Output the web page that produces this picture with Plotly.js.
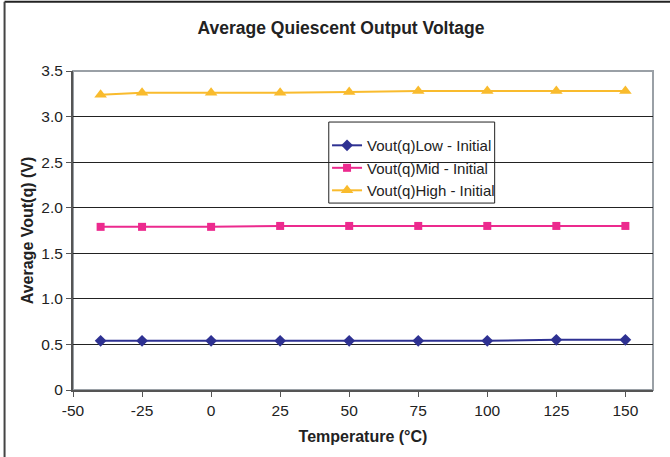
<!DOCTYPE html>
<html>
<head>
<meta charset="utf-8">
<script src="https://cdn.plot.ly/plotly-3.0.1.min.js"></script>
<style>html,body{margin:0;padding:0;background:#fff;}#chart{width:670px;height:457px;}</style>
</head>
<body>
<div id="chart"></div>
<script>
const temperatures = [-40, -25, 0, 25, 50, 75, 100, 125, 150];
const voutLow  = [0.54, 0.54, 0.54, 0.54, 0.54, 0.54, 0.54, 0.55, 0.55];
const voutMid  = [1.79, 1.79, 1.79, 1.80, 1.80, 1.80, 1.80, 1.80, 1.80];
const voutHigh = [3.24, 3.26, 3.26, 3.26, 3.27, 3.28, 3.28, 3.28, 3.28];
const seriesNames = ["Vout(q)Low - Initial", "Vout(q)Mid - Initial", "Vout(q)High - Initial"];
const xTicks = [-50, -25, 0, 25, 50, 75, 100, 125, 150];
const yTicks = [0, 0.5, 1.0, 1.5, 2.0, 2.5, 3.0, 3.5];
const yTickText = ["0", "0.5", "1.0", "1.5", "2.0", "2.5", "3.0", "3.5"];

const font = "Liberation Sans, Arial, sans-serif";
const traces = [
  {x: temperatures, y: voutLow, name: seriesNames[0], mode: "lines+markers",
   line: {color: "#2e3192", width: 2}, marker: {symbol: "diamond", size: 9, color: "#2e3192"}},
  {x: temperatures, y: voutMid, name: seriesNames[1], mode: "lines+markers",
   line: {color: "#ec2a8e", width: 2}, marker: {symbol: "square", size: 8, color: "#ec2a8e"}},
  {x: temperatures, y: voutHigh, name: seriesNames[2], mode: "lines+markers",
   line: {color: "#f9bb2d", width: 2}, marker: {symbol: "triangle-up", size: 11, color: "#f9bb2d"}}
];

const layout = {
  width: 670, height: 457,
  margin: {l: 73, r: 17, t: 71, b: 67},
  paper_bgcolor: "#fff", plot_bgcolor: "#fff",
  font: {family: font, color: "#222", size: 15},
  showlegend: true,
  title: {text: "<b>Average Quiescent Output Voltage</b>", font: {family: font, size: 17.5, color: "#222"},
          x: 0.509, xanchor: "center", y: 0.94, yanchor: "middle"},
  xaxis: {
    range: [-50, 160], tickvals: xTicks, ticktext: xTicks.map(String),
    showgrid: false, zeroline: false,
    showline: true, linecolor: "#555", linewidth: 2,
    ticks: "outside", ticklen: 5, tickcolor: "#555", tickwidth: 1,
    tickfont: {family: font, size: 15.5, color: "#222"},
    title: {text: "<b>Temperature (°C)</b>", font: {family: font, size: 16, color: "#222"}, standoff: 13}
  },
  yaxis: {
    range: [0, 3.5], tickvals: yTicks, ticktext: yTickText,
    showgrid: true, gridcolor: "#222", gridwidth: 1, zeroline: false,
    showline: true, linecolor: "#555", linewidth: 2,
    ticks: "outside", ticklen: 5, tickcolor: "#555", tickwidth: 1,
    tickfont: {family: font, size: 15.5, color: "#222"},
    title: {text: "<b>Average Vout(q) (V)</b>", font: {family: font, size: 16, color: "#222"}, standoff: 4}
  },
  legend: {
    x: 0.438, y: 0.818, xanchor: "left", yanchor: "top",
    bgcolor: "rgba(0,0,0,0)", borderwidth: 0,
    font: {family: font, size: 15, color: "#222"},
    tracegroupgap: 0, itemwidth: 30
  },
  shapes: [
    {type: "rect", xref: "paper", yref: "paper", x0: 0, x1: 1, y0: 0, y1: 1,
     line: {color: "#9aa0a6", width: 2}, layer: "below"},
    {type: "rect", xref: "paper", yref: "paper", x0: 0.441, x1: 0.727, y0: 0.586, y1: 0.840,
     line: {color: "#222", width: 1}, fillcolor: "#fff", layer: "below"},
    {type: "line", xref: "paper", yref: "paper", x0: -0.118, x1: 1.04, y0: 1.217, y1: 1.217,
     line: {color: "#222", width: 2}},
    {type: "line", xref: "paper", yref: "paper", x0: -0.118, x1: -0.118, y0: 1.217, y1: -0.22,
     line: {color: "#444", width: 2}}
  ]
};

Plotly.newPlot("chart", traces, layout, {displayModeBar: false, staticPlot: true});
</script>
</body>
</html>
